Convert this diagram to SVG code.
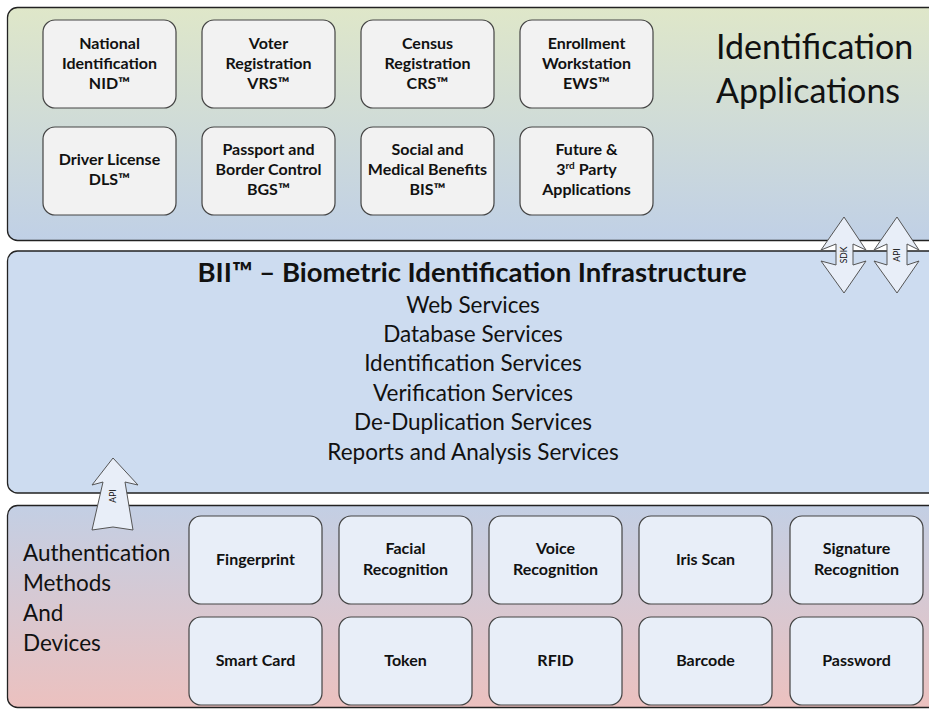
<svg xmlns="http://www.w3.org/2000/svg" width="929" height="711" viewBox="0 0 929 711">
<style>
text{font-family:Lato,"Open Sans","Liberation Sans",sans-serif;fill:#111}
.panel{stroke:#222;stroke-width:1.3}
.app rect{fill:#f2f2f2;stroke:#444;stroke-width:1.2}
.dev rect{fill:#e8eef8;stroke:#444;stroke-width:1.2}
.lbl{font-size:16px;font-weight:bold;text-anchor:middle}
.svc{font-size:22.5px;text-anchor:middle}
.big{font-size:34px}
.side{font-size:22.5px}
.arr{fill:#e8eef8;stroke:#555;stroke-width:1}
.atxt{font-size:8.5px;text-anchor:middle}
</style>
<defs>
<linearGradient id="gTop" x1="0" y1="0" x2="0" y2="1">
<stop offset="0" stop-color="#dfe7c9"/>
<stop offset="1" stop-color="#c0d0e6"/>
</linearGradient>
<linearGradient id="gBot" x1="0" y1="0" x2="0" y2="1">
<stop offset="0" stop-color="#c3cfe4"/>
<stop offset="1" stop-color="#ecc1bf"/>
</linearGradient>
</defs>
<rect width="929" height="711" fill="#fff"/>
<g id="panel-apps">
<rect class="panel" x="7.5" y="7.5" width="940" height="233" rx="10" fill="url(#gTop)"/>
<text class="big" x="716" y="59">Identification</text>
<text class="big" x="716" y="103">Applications</text>
</g>
<g id="panel-bii">
<rect class="panel" x="7.5" y="251" width="940" height="242" rx="10" fill="#cddcf0"/>
<text x="472" y="282" font-size="27.5" font-weight="bold" text-anchor="middle">BII™ – Biometric Identification Infrastructure</text>
<text class="svc" x="473" y="313">Web Services</text>
<text class="svc" x="473" y="342">Database Services</text>
<text class="svc" x="473" y="371">Identification Services</text>
<text class="svc" x="473" y="401">Verification Services</text>
<text class="svc" x="473" y="430">De-Duplication Services</text>
<text class="svc" x="473" y="460">Reports and Analysis Services</text>
</g>
<g id="panel-auth">
<rect class="panel" x="7.5" y="505.5" width="940" height="202" rx="10" fill="url(#gBot)"/>
<text class="side" x="23" y="561">Authentication</text>
<text class="side" x="23" y="591">Methods</text>
<text class="side" x="23" y="621">And</text>
<text class="side" x="23" y="651">Devices</text>
</g>
<g id="nid" class="app"><rect x="43" y="20" width="133" height="88" rx="12"/><text class="lbl" x="109.5" y="49">National</text><text class="lbl" x="109.5" y="69">Identification</text><text class="lbl" x="109.5" y="89">NID™</text></g>
<g id="vrs" class="app"><rect x="202" y="20" width="133" height="88" rx="12"/><text class="lbl" x="268.5" y="49">Voter</text><text class="lbl" x="268.5" y="69">Registration</text><text class="lbl" x="268.5" y="89">VRS™</text></g>
<g id="crs" class="app"><rect x="361" y="20" width="133" height="88" rx="12"/><text class="lbl" x="427.5" y="49">Census</text><text class="lbl" x="427.5" y="69">Registration</text><text class="lbl" x="427.5" y="89">CRS™</text></g>
<g id="ews" class="app"><rect x="520" y="20" width="133" height="88" rx="12"/><text class="lbl" x="586.5" y="49">Enrollment</text><text class="lbl" x="586.5" y="69">Workstation</text><text class="lbl" x="586.5" y="89">EWS™</text></g>
<g id="dls" class="app"><rect x="43" y="127" width="133" height="88" rx="12"/><text class="lbl" x="109.5" y="165">Driver License</text><text class="lbl" x="109.5" y="185">DLS™</text></g>
<g id="bgs" class="app"><rect x="202" y="127" width="133" height="88" rx="12"/><text class="lbl" x="268.5" y="155">Passport and</text><text class="lbl" x="268.5" y="175">Border Control</text><text class="lbl" x="268.5" y="195">BGS™</text></g>
<g id="bis" class="app"><rect x="361" y="127" width="133" height="88" rx="12"/><text class="lbl" x="427.5" y="155">Social and</text><text class="lbl" x="427.5" y="175">Medical Benefits</text><text class="lbl" x="427.5" y="195">BIS™</text></g>
<g id="future" class="app"><rect x="520" y="127" width="133" height="88" rx="12"/><text class="lbl" x="586.5" y="155">Future &amp;</text><text class="lbl" x="586.5" y="175">3<tspan font-size="10" dy="-6">rd</tspan><tspan dy="6">  Party</tspan></text><text class="lbl" x="586.5" y="195">Applications</text></g>
<g id="fingerprint" class="dev"><rect x="189" y="516" width="133" height="88" rx="12"/><text class="lbl" x="255.5" y="565">Fingerprint</text></g>
<g id="facial" class="dev"><rect x="339" y="516" width="133" height="88" rx="12"/><text class="lbl" x="405.5" y="554">Facial</text><text class="lbl" x="405.5" y="575">Recognition</text></g>
<g id="voice" class="dev"><rect x="489" y="516" width="133" height="88" rx="12"/><text class="lbl" x="555.5" y="554">Voice</text><text class="lbl" x="555.5" y="575">Recognition</text></g>
<g id="iris" class="dev"><rect x="639" y="516" width="133" height="88" rx="12"/><text class="lbl" x="705.5" y="565">Iris Scan</text></g>
<g id="signature" class="dev"><rect x="790" y="516" width="133" height="88" rx="12"/><text class="lbl" x="856.5" y="554">Signature</text><text class="lbl" x="856.5" y="575">Recognition</text></g>
<g id="smartcard" class="dev"><rect x="189" y="617" width="133" height="88" rx="12"/><text class="lbl" x="255.5" y="666">Smart Card</text></g>
<g id="token" class="dev"><rect x="339" y="617" width="133" height="88" rx="12"/><text class="lbl" x="405.5" y="666">Token</text></g>
<g id="rfid" class="dev"><rect x="489" y="617" width="133" height="88" rx="12"/><text class="lbl" x="555.5" y="666">RFID</text></g>
<g id="barcode" class="dev"><rect x="639" y="617" width="133" height="88" rx="12"/><text class="lbl" x="705.5" y="666">Barcode</text></g>
<g id="password" class="dev"><rect x="790" y="617" width="133" height="88" rx="12"/><text class="lbl" x="856.5" y="666">Password</text></g>
<g id="connectors">
<polygon class="arr" points="844,217 866,250 853,244 853,265 866,261 844,293 821,261 836,265 836,244 821,250"/>
<text class="atxt" transform="translate(847,255) rotate(-90)">SDK</text>
<polygon class="arr" points="897,217 919,250 907,244 907,265 919,261 897,293 874,261 887,265 887,244 874,250"/>
<text class="atxt" transform="translate(900,255) rotate(-90)">API</text>
<polygon class="arr" points="113,458 138,485 125,482 133,530 113,527 92,530 103,482 92,485"/>
<text class="atxt" transform="translate(116,496) rotate(-90)">API</text>
</g>
</svg>
